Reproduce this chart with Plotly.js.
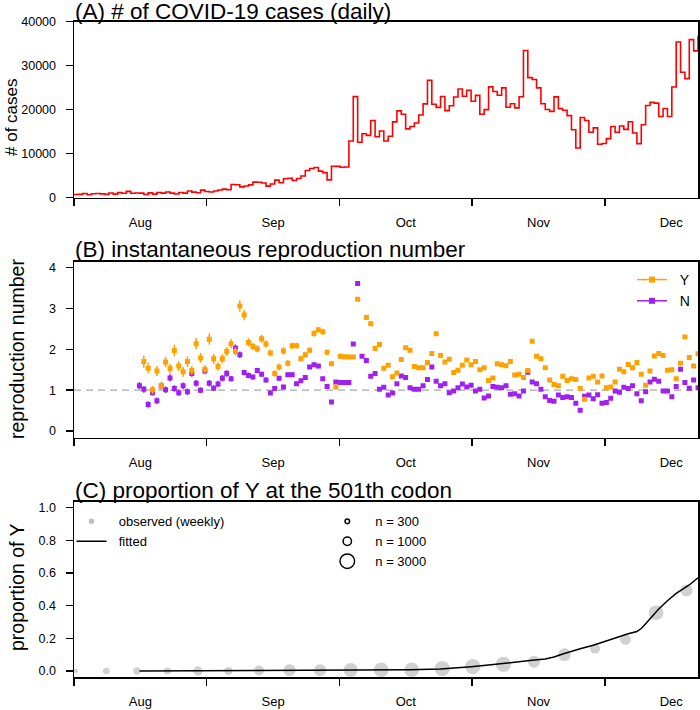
<!DOCTYPE html>
<html>
<head>
<meta charset="utf-8">
<script src="https://cdn.plot.ly/plotly-3.0.1.min.js"></script>
<style>
html,body{margin:0;padding:0;background:#fff;}
#chart{width:700px;height:710px;}
</style>
</head>
<body>
<div id="chart"></div>
<script>
// ---------------- data ----------------
const startDate = '2020-08-01';           // day 0 of the x axis
const monthLabels = ['Aug', 'Sep', 'Oct', 'Nov', 'Dec'];
const daysPerMonth = 365 / 12;

// (A) daily reported cases, 1 Aug .. 22 Dec
const dailyCases = [
  744, 747, 938, 670, 892, 950, 871, 758, 1062, 816,
  1148, 1009, 1441, 1012, 1077, 1040, 713, 1089, 812, 1182,
  1033, 1288, 1041, 853, 1184, 1048, 1522, 1276, 1108, 1715, 1406,
  1295, 1508, 1735, 1940, 1813, 2988, 2948, 2460, 2659, 2919,
  3539, 3497, 3330, 2621, 3105, 3991, 3395, 4322, 4422, 3899,
  4368, 4926, 6178, 6634, 6874, 6042, 5693, 4044, 7143, 7108,
  6914, 6968, 12872, 22961, 12594, 14542, 14162, 17540, 13864, 15166,
  12872, 13972, 17234, 19724, 18980, 15650, 16171, 16982, 18804, 21331,
  26688, 21242, 20530, 23012, 19790, 20890, 22885, 24701, 23065, 24405, 21915,
  23254, 18950, 20018, 25177, 24141, 23287, 24957, 20572, 21350, 20412,
  22950, 33470, 27301, 26860, 24962, 21363, 20051, 19609, 22915, 20252,
  19875, 18662, 15450, 11299, 18213, 17555, 14879, 15871, 12155, 12330,
  13430, 16170, 14879, 16298, 15539, 17272, 14718, 12282, 16578, 20964,
  21672, 21502, 18447, 20263, 18450, 25161, 35383, 28507, 27052, 35928,
  33364, 36804
];

// (B) instantaneous reproduction number, days 15 .. 143
const rFirstDay = 15;
const rY = [
  null, 1.70, 1.54, 1.01, 1.47, 1.11, 1.69, 1.53, 1.97, 1.59,
  1.45, 1.70, 1.48, 2.14, 1.79, 1.51, 2.25, 1.77, 1.58, 1.77,
  1.95, 2.14, 1.95, 3.06, 2.84, 2.17, 2.07, 2.01, 2.26, 2.13,
  1.91, 1.41, 1.57, 1.96, 1.66, 2.09, 2.09, 1.77, 1.87, 1.98,
  2.39, 2.48, 2.43, 1.93, 1.65, 1.08, 1.83, 1.82, 1.81, 1.81,
  3.23, null, 2.78, 2.63, 2.02, 2.12, 1.54, 1.61, 1.33, 1.42,
  1.75, 2.04, 1.98, 1.58, 1.55, 1.55, 1.68, 1.90, 2.38, 1.85,
  1.69, 1.76, 1.43, 1.49, 1.61, 1.74, 1.62, 1.70, 1.50, 1.55,
  1.24, 1.30, 1.65, 1.62, 1.60, 1.70, 1.37, 1.39, 1.31, 1.48,
  2.20, 1.83, 1.77, 1.55, 1.25, 1.14, 1.11, 1.34, 1.24, 1.28,
  1.26, 1.04, 0.78, 1.30, 1.34, 1.20, 1.35, 1.06, 1.08, 1.20,
  1.51, 1.45, 1.63, 1.55, 1.68, 1.39, 1.12, 1.47, 1.84, 1.90,
  1.85, 1.49, 1.50, 1.28, 1.66, 2.30, 1.80, 1.59, 1.89
];
const rN = [
  1.11, 1.02, 0.65, 0.94, 0.74, 1.10, 1.01, 1.30, 1.04, 0.94,
  1.11, 0.96, 1.41, 1.17, 1.00, 1.47, 1.17, 1.05, 1.15, 1.29,
  1.41, 1.28, 2.03, 1.87, 1.43, 1.36, 1.32, 1.48, 1.39, 1.25,
  0.93, 1.04, 1.29, 1.08, 1.38, 1.38, 1.16, 1.23, 1.31, 1.57,
  1.62, 1.59, 1.28, 1.09, 0.71, 1.20, 1.19, 1.19, 1.19, 2.13,
  3.61, 1.83, 1.73, 1.34, 1.41, 1.02, 1.07, 0.88, 0.93, 1.16,
  1.35, 1.31, 1.06, 1.02, 1.02, 1.11, 1.26, 1.57, 1.22, 1.11,
  1.16, 0.94, 0.98, 1.06, 1.15, 1.08, 1.12, 0.98, 1.02, 0.81,
  0.86, 1.09, 1.07, 1.06, 1.11, 0.90, 0.91, 0.86, 0.98, 1.44,
  1.20, 1.16, 1.02, 0.84, 0.75, 0.73, 0.88, 0.82, 0.84, 0.82,
  0.68, 0.51, 0.85, 0.88, 0.79, 0.89, 0.68, 0.70, 0.80, 0.98,
  0.95, 1.07, 1.04, 1.11, 0.91, 0.74, 0.96, 1.20, 1.27, 1.22,
  0.98, 0.98, 0.84, 1.09, 1.51, 1.19, 1.05, 1.25, 1.06
];
// half-widths of the interval bars
const ciY = [
  0, 0.15, 0.13, 0.10, 0.12, 0.10, 0.13, 0.12, 0.14, 0.12,
  0.12, 0.13, 0.11, 0.14, 0.12, 0.10, 0.14, 0.12, 0.10, 0.11,
  0.11, 0.12, 0.10, 0.14, 0.13, 0.10, 0.09, 0.09, 0.10, 0.09,
  0.08, 0.08, 0.08, 0.09, 0.08, 0.08, 0.07, 0.07, 0.07, 0.07,
  0.08, 0.07, 0.07, 0.06, 0.06, 0.05, 0.04, 0.04, 0.04, 0.04,
  0.05, 0, 0.05, 0.05, 0.04, 0.04, 0.03, 0.03, 0.03, 0.03,
  0.03, 0.03, 0.03, 0.03, 0.03, 0.03, 0.03, 0.03, 0.03, 0.03,
  0.03, 0.03, 0.03, 0.03, 0.03, 0.03, 0.03, 0.03, 0.03, 0.03,
  0.03, 0.03, 0.03, 0.03, 0.03, 0.03, 0.03, 0.03, 0.03, 0.03,
  0.03, 0.03, 0.03, 0.03, 0.03, 0.03, 0.03, 0.03, 0.03, 0.03,
  0.03, 0.03, 0.03, 0.03, 0.03, 0.03, 0.03, 0.03, 0.03, 0.03,
  0.03, 0.03, 0.03, 0.03, 0.03, 0.03, 0.03, 0.03, 0.03, 0.03,
  0.03, 0.03, 0.03, 0.03, 0.03, 0.03, 0.03, 0.03, 0.03
];
const ciN = [
  0.09, 0.08, 0.08, 0.07, 0.08, 0.07, 0.08, 0.09, 0.08, 0.08,
  0.08, 0.08, 0.08, 0.08, 0.07, 0.08, 0.08, 0.07, 0.08, 0.08,
  0.08, 0.07, 0.09, 0.08, 0.07, 0.07, 0.06, 0.06, 0.06, 0.06,
  0.05, 0.05, 0.06, 0.05, 0.05, 0.05, 0.05, 0.05, 0.05, 0.05,
  0.05, 0.05, 0.04, 0.04, 0.04, 0.03, 0.02, 0.02, 0.02, 0.02,
  0.02, 0.02, 0.02, 0.02, 0.02, 0.02, 0.02, 0.02, 0.02, 0.02,
  0.02, 0.02, 0.02, 0.02, 0.02, 0.02, 0.02, 0.02, 0.02, 0.02,
  0.02, 0.02, 0.02, 0.02, 0.02, 0.02, 0.02, 0.02, 0.02, 0.02,
  0.02, 0.02, 0.02, 0.02, 0.02, 0.02, 0.02, 0.02, 0.02, 0.02,
  0.02, 0.02, 0.02, 0.02, 0.02, 0.02, 0.02, 0.02, 0.02, 0.02,
  0.02, 0.02, 0.02, 0.02, 0.02, 0.02, 0.02, 0.02, 0.02, 0.02,
  0.02, 0.02, 0.02, 0.02, 0.02, 0.02, 0.02, 0.02, 0.02, 0.02,
  0.02, 0.02, 0.02, 0.02, 0.02, 0.02, 0.02, 0.02, 0.02
];
const rThreshold = 1;

// (C) weekly proportion of Y at codon 501 (x, in days), sample sizes, fitted curve
const weekDays = [0.4, 7.4, 14.4, 21.4, 28.4, 35.4, 42.4, 49.4, 56.4, 63.4, 70.4, 77.4, 84.4, 91.4, 98.4, 105.4, 112.4, 119.4, 126.4, 133.4, 140.4];
const propObserved = [0, 0, 0, 0, 0, 0, 0.003, 0.004, 0.005, 0.006, 0.007, 0.007, 0.015, 0.027, 0.041, 0.056, 0.100, 0.137, 0.193, 0.357, 0.493];
const nWeekly = [300, 640, 760, 740, 1230, 910, 1420, 2050, 2050, 2790, 3070, 3070, 3330, 3330, 3330, 2050, 2300, 1420, 1630, 3070, 2050];
const fitDays = [15, 30, 45, 60, 70, 77, 84, 88, 91, 95, 98, 102, 105, 108, 110, 112, 114, 116, 119, 122, 125, 127, 129, 130, 131, 132, 134, 136, 138, 141, 143];
const fitProp = [0, 0.001, 0.002, 0.003, 0.005, 0.008, 0.012, 0.018, 0.026, 0.036, 0.046, 0.057, 0.066, 0.073, 0.086, 0.104, 0.122, 0.136, 0.158, 0.186, 0.214, 0.228, 0.242, 0.26, 0.29, 0.32, 0.38, 0.43, 0.475, 0.527, 0.571];
const nLegend = [300, 1000, 3000];

const yTicksA = [0, 10000, 20000, 30000, 40000];
const yTicksB = [0, 1, 2, 3, 4];
const yTicksC = [0, 0.2, 0.4, 0.6, 0.8, 1.0];

// ---------------- styling / layout ----------------
const FONT = 'Liberation Sans, Arial, Helvetica, sans-serif';
const ORANGE = '#FFA200';
const PURPLE = '#A020F0';
const GREY = '#BEBEBE';
const W = 700, H = 710;
const PLOT_L = 74, PLOT_R = 698;
const BOX_A = [21.7, 197.7], BOX_B = [261.7, 437.7], BOX_C = [501.7, 677.3];
const SIZE_K = 0.265;                       // marker diameter per sqrt(n)
const LEG_PAD = '\u00a0\u00a0';             // text gap after a legend symbol

const px = v => v / W;
const py = v => 1 - v / H;
const dom = b => [py(b[1]), py(b[0])];

const caseDays = dailyCases.map((_, i) => i);
const rDays = rN.map((_, i) => rFirstDay + i);
const xMax = caseDays[caseDays.length - 1];
const monthStart = monthLabels.map((_, k) => k * daysPerMonth);
const monthMid = monthLabels.map((_, k) => (k + 0.5) * daysPerMonth);

function xAxis(anchor) {
  return {
    domain: [px(PLOT_L), px(PLOT_R)], range: [0, xMax], anchor: anchor,
    showline: true, mirror: true, linecolor: 'black', linewidth: 1.5,
    showgrid: false, zeroline: false, fixedrange: true,
    tickmode: 'array', tickvals: monthMid, ticktext: monthLabels, ticks: '',
    ticklabelstandoff: 12, tickfont: {size: 13, color: 'black'},
    minor: {tickmode: 'array', tickvals: monthStart, ticks: 'outside', ticklen: 7,
            tickwidth: 1.5, tickcolor: 'black', showgrid: false}
  };
}
function yAxis(anchor, box, range, ticks, fmt) {
  return {
    domain: dom(box), range: range, anchor: anchor,
    showline: true, mirror: true, linecolor: 'black', linewidth: 1.5,
    showgrid: false, zeroline: false, fixedrange: true,
    tickmode: 'array', tickvals: ticks, tickformat: fmt,
    ticks: 'outside', ticklen: 7, tickwidth: 1.5, tickcolor: 'black',
    ticklabelstandoff: 7, tickfont: {size: 12.5, color: 'black'}
  };
}

const traces = [
  // (A)
  {x: caseDays, y: dailyCases, mode: 'lines', line: {shape: 'hv', color: '#FF0000', width: 1.6},
   xaxis: 'x', yaxis: 'y', showlegend: false, hoverinfo: 'skip'},
  // (B)
  {x: rDays, y: rN, mode: 'markers', marker: {symbol: 'square', size: 5, color: PURPLE},
   error_y: {type: 'data', array: ciN, visible: true, thickness: 1.5, width: 0, color: PURPLE},
   xaxis: 'x2', yaxis: 'y2', showlegend: false, hoverinfo: 'skip'},
  {x: rDays, y: rY, mode: 'markers', marker: {symbol: 'square', size: 5, color: ORANGE},
   error_y: {type: 'data', array: ciY, visible: true, thickness: 1.5, width: 0, color: ORANGE},
   xaxis: 'x2', yaxis: 'y2', showlegend: false, hoverinfo: 'skip'},
  {x: [null], y: [null], name: LEG_PAD + 'Y', legendgroup: 'y', mode: 'lines+markers', line: {color: ORANGE, width: 1.5},
   marker: {symbol: 'square', size: 6, color: ORANGE}, xaxis: 'x2', yaxis: 'y2', legend: 'legend'},
  {x: [null], y: [null], name: LEG_PAD + 'N', legendgroup: 'n', mode: 'lines+markers', line: {color: PURPLE, width: 1.5},
   marker: {symbol: 'square', size: 6, color: PURPLE}, xaxis: 'x2', yaxis: 'y2', legend: 'legend'},
  // (C)
  {x: weekDays, y: propObserved, mode: 'markers',
   marker: {size: nWeekly.map(n => SIZE_K * Math.sqrt(n)), sizemode: 'diameter', color: GREY, line: {width: 0}},
   xaxis: 'x3', yaxis: 'y3', showlegend: false, hoverinfo: 'skip', cliponaxis: false},
  {x: [null], y: [null], name: LEG_PAD + 'observed (weekly)', mode: 'markers',
   marker: {size: 5.5, color: GREY}, xaxis: 'x3', yaxis: 'y3', legend: 'legend2'},
  {x: fitDays, y: fitProp, name: LEG_PAD + 'fitted', mode: 'lines', line: {color: 'black', width: 1.5},
   xaxis: 'x3', yaxis: 'y3', legend: 'legend2', hoverinfo: 'skip'}
];
nLegend.forEach(n => traces.push({
  x: [null], y: [null], name: 'n = ' + n, mode: 'markers',
  marker: {symbol: 'circle-open', size: SIZE_K * Math.sqrt(n), color: 'black', line: {width: 1.5}},
  xaxis: 'x3', yaxis: 'y3', legend: 'legend3'
}));

function ann(text, x, y, size, opts) {
  return Object.assign({text: text, x: x, y: y, xref: 'paper', yref: 'paper', showarrow: false,
    font: {size: size, color: 'black', family: FONT}}, opts);
}
const legendBase = {bgcolor: 'rgba(0,0,0,0)', borderwidth: 0, xanchor: 'left', yanchor: 'top',
  traceorder: 'normal', tracegroupgap: 0};

const TITLE_SIZE = 22.5;
const layout = {
  width: W, height: H, margin: {l: 0, r: 0, t: 0, b: 0, pad: 0},
  paper_bgcolor: 'white', plot_bgcolor: 'white',
  font: {family: FONT, color: 'black'},
  xaxis: xAxis('y'), xaxis2: xAxis('y2'), xaxis3: xAxis('y3'),
  yaxis: yAxis('x', BOX_A, [0, 40000], yTicksA, 'd'),
  yaxis2: yAxis('x2', BOX_B, [-0.164, 4.147], yTicksB, 'd'),
  yaxis3: yAxis('x3', BOX_C, [-0.0386, 1.037], yTicksC, '.1f'),
  shapes: [{type: 'line', xref: 'x2 domain', x0: 0, x1: 1, yref: 'y2', y0: rThreshold, y1: rThreshold,
            line: {color: '#A8A8A8', width: 1.3, dash: '7px,5px'}, layer: 'below'}],
  legend: Object.assign({}, legendBase, {x: px(632), y: py(264), font: {size: 14}, tracegroupgap: 2}),
  legend2: Object.assign({}, legendBase, {x: px(71.5), y: py(506.4), font: {size: 13}}),
  legend3: Object.assign({}, legendBase, {x: px(319.3), y: py(506.4), font: {size: 13}, itemwidth: 46}),
  annotations: [
    ann('(A) # of COVID-19 cases (daily)', px(73), py(26.3), TITLE_SIZE, {xanchor: 'left', yanchor: 'bottom'}),
    ann('(B) instantaneous reproduction number', px(73), py(264.3), TITLE_SIZE, {xanchor: 'left', yanchor: 'bottom'}),
    ann('(C) proportion of Y at the 501th codon', px(73), py(504.6), TITLE_SIZE, {xanchor: 'left', yanchor: 'bottom'}),
    ann('# of cases', px(11), py(117), 17, {textangle: -90, xanchor: 'center', yanchor: 'middle'}),
    ann('reproduction number', px(17), py(349), 19.5, {textangle: -90, xanchor: 'center', yanchor: 'middle'}),
    ann('proportion of Y', px(16.5), py(587.5), 19.5, {textangle: -90, xanchor: 'center', yanchor: 'middle'})
  ]
};

Plotly.newPlot('chart', traces, layout, {displayModeBar: false, staticPlot: true});
</script>
</body>
</html>
